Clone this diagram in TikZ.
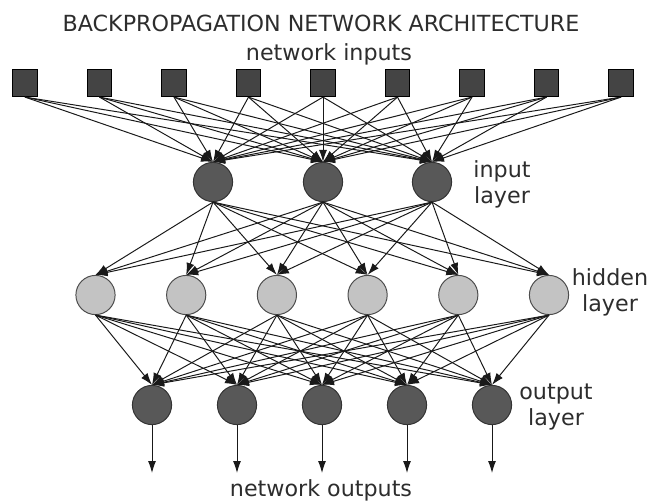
\documentclass[tikz,border=0pt]{standalone}
\usepackage{fontspec}
\setmainfont{DejaVu Sans}
\usetikzlibrary{arrows.meta}
\definecolor{sqgray}{RGB}{68,68,68}
\definecolor{darkgray}{RGB}{88,88,88}
\definecolor{lightgray}{RGB}{195,195,195}
\definecolor{textgray}{RGB}{45,45,45}
\tikzset{
	txt/.style={text=textgray,inner sep=0,font=\fontsize{15.8}{18.5}\selectfont},
	inbox/.style={draw=black,fill=sqgray,line width=0.7pt,minimum width=0.62cm,minimum height=0.68cm,inner sep=0},
	darknode/.style={circle,draw=black!80,fill=darkgray,line width=0.7pt,minimum size=0.98cm,inner sep=0},
	lightnode/.style={circle,draw=black!70,fill=lightgray,line width=0.7pt,minimum size=0.98cm,inner sep=0},
	link/.style={line width=0.7pt,black!90,-{Latex[length=3mm,width=2mm]}}
}
\begin{document}
\begin{tikzpicture}[x=0.025cm,y=-0.025cm]
		\useasboundingbox (0,0) rectangle (650,501);
		
		\node[txt] (title) at (321,23.5) {BACKPROPAGATION NETWORK ARCHITECTURE};
		\node[txt] (innames) at (329,54) {network inputs};
		\node[txt] (outnames) at (321,490) {network outputs};
		
		% layers
		\foreach \i in {1,...,9}
			\node[inbox] (x\i) at ({25+74.5*(\i-1)},83) {};
		\foreach \i/\x in {1/213,2/323,3/432}
			\node[darknode] (a\i) at (\x,182) {};
		\foreach \i in {1,...,6}
			\node[lightnode] (h\i) at ({95.5+90.7*(\i-1)},295) {};
		\foreach \i in {1,...,5}
			\node[darknode] (o\i) at ({152+85*(\i-1)},405) {};
		
		\node[txt,align=center] (inlab) at (502,184) {input\\layer};
		\node[txt,align=center] (hidlab) at (610,292) {hidden\\layer};
		\node[txt,align=center] (outlab) at (556,407) {output\\layer};
		
		% connections
		\foreach \i in {1,...,9}
			\foreach \j in {1,2,3}
				\draw[link] (x\i.south) -- (a\j.north);
		\foreach \i in {1,2,3}
			\foreach \j in {1,...,6}
				\draw[link] (a\i.south) -- (h\j.north);
		\foreach \i in {1,...,6}
			\foreach \j in {1,...,5}
				\draw[link] (h\i.south) -- (o\j.north);
		\foreach \i in {1,...,5} {
			\coordinate (y\i) at ({152+85*(\i-1)},473);
			\draw[link] (o\i.south) -- (y\i);
		}
\end{tikzpicture}
\end{document}
